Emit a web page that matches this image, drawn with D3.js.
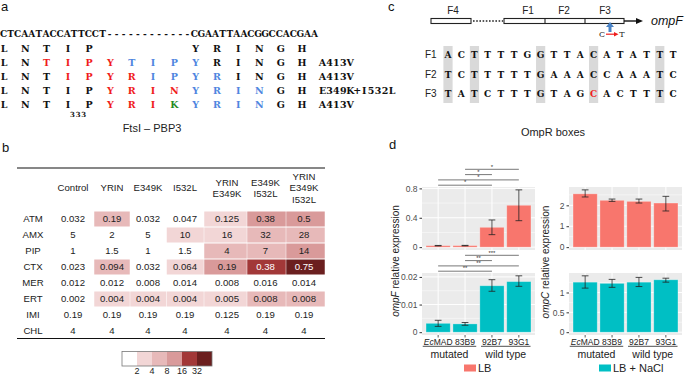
<!DOCTYPE html>
<html>
<head>
<meta charset="utf-8">
<script src="https://cdn.jsdelivr.net/npm/d3@7"></script>
<style>
  body { margin: 0; background: #fff; }
  svg { display: block; }
</style>
</head>
<body>
<svg id="fig" width="685" height="375"></svg>
<script>
// ---- panel a: FtsI alignment ----
const dnaSeq = "CTCAATACCATTCCT------------CGAATTAACGGCCACGAA";
const aaSeqs = ["LNTIP    YRINGH", "LNTIPYTIPYRINGH", "LNTIPYRIPYRINGH", "LNTIPYRINYRINGH", "LNTIPYRIKYRINGH"];
const aaColourCodes = ["kkkkkkkkkkkkkkk", "kkrrrrbbbbkkkkk", "kkkrrrrbbbbkkkk", "kkkkkrrrrbbbbkk", "kkkkkrrrgbbbbkk"];
const aaRowLabels = ["", "A413V", "A413V", "E349K+I532L", "A413V"];

// ---- panel b: MIC table ----
const strains = ["Control", "YRIN", "E349K", "I532L", "YRIN E349K", "E349K I532L", "YRIN E349K I532L"];
const drugs = ["ATM", "AMX", "PIP", "CTX", "MER", "ERT", "IMI", "CHL"];
const micATM = ["0.032", "0.19", "0.032", "0.047", "0.125", "0.38", "0.5"];
const micAMX = ["5", "2", "5", "10", "16", "32", "28"];
const micPIP = ["1", "1.5", "1", "1.5", "4", "7", "14"];
const micCTX = ["0.023", "0.094", "0.032", "0.064", "0.19", "0.38", "0.75"];
const micMER = ["0.012", "0.012", "0.008", "0.014", "0.008", "0.016", "0.014"];
const micERT = ["0.002", "0.004", "0.004", "0.004", "0.005", "0.008", "0.008"];
const micIMI = ["0.19", "0.19", "0.19", "0.19", "0.125", "0.19", "0.19"];
const micCHL = ["4", "4", "4", "4", "4", "4", "4"];
const foldBreaks = [2, 4, 8, 16, 32];
const foldColours = ["#ffffff", "#f2d6d6", "#e7b9b9", "#d99a9a", "#a23838", "#6b1f1f"];

// ---- panel c: OmpR boxes ----
const boxNames = ["F1", "F2", "F3"];
const boxSeqs = ["ACTTTTGGTTACATATTT", "TCTTTTTGAAACCAAATC", "TATCTTTGTAGCACTTTC"];
const conservedCols = [0, 2, 7, 11, 16];

// ---- panel d: expression ----
const isolates = ["EcMAD", "83B9", "92B7", "93G1"];
const groups = ["mutated", "wild type"];
const ompfLbMean = [0.02, 0.021, 0.27, 0.57];
const ompfLbLow = [0.017, 0.018, 0.17, 0.36];
const ompfLbHigh = [0.023, 0.024, 0.37, 0.78];
const ompfNaclMean = [0.0032, 0.003, 0.0168, 0.0183];
const ompfNaclLow = [0.0021, 0.0025, 0.0148, 0.0166];
const ompfNaclHigh = [0.0043, 0.0035, 0.019, 0.0204];
const ompcLbMean = [2.55, 2.24, 2.19, 2.11];
const ompcLbLow = [2.4, 2.19, 2.11, 1.73];
const ompcLbHigh = [2.74, 2.3, 2.3, 2.43];
const ompcNaclMean = [1.26, 1.23, 1.26, 1.32];
const ompcNaclLow = [1.11, 1.13, 1.15, 1.26];
const ompcNaclHigh = [1.42, 1.33, 1.38, 1.36];
const sigLb = [[1, 3, "*"], [1, 2, "*"], [0, 3, "*"], [0, 2, "*"]];
const sigNacl = [[1, 3, "***"], [1, 2, "**"], [0, 3, "**"], [0, 2, "**"]];

const svg = d3.select("#fig");
const serif = "'DejaVu Serif', serif";
const sans = "'Liberation Sans', Arial, sans-serif";
const aaColour = { k: "#111", r: "#f01c1c", b: "#4f86e0", g: "#1f8a1f" };

// draws a string one glyph per slot, so a serif font behaves like monospace
function drawChars(g, str, xAt, baseline, size, fillAt, weight = "bold") {
  g.selectAll(null)
    .data(str.split(""))
    .join("text")
    .attr("x", (d, i) => xAt(i))
    .attr("y", baseline)
    .attr("text-anchor", "middle")
    .attr("font-family", serif)
    .attr("font-weight", weight)
    .attr("font-size", size)
    .attr("fill", (d, i) => fillAt(i))
    .text((d) => d);
}

function panelLabel(x, y, t) {
  svg.append("text").attr("x", x).attr("y", y).attr("font-family", sans)
    .attr("font-size", 13).attr("fill", "#111").text(t);
}

/* ---------------- panel a ---------------- */
panelLabel(1, 11, "a");
const gA = svg.append("g");
drawChars(gA, dnaSeq, (i) => 3.5 + i * 7.07, 37, 9, () => "#111");

const aaX = d3.scaleLinear().domain([0, 14]).range([4, 302]);
const aaRowY = d3.scaleLinear().domain([0, 4]).range([51.5, 107.5]);
aaSeqs.forEach((seq, r) => {
  drawChars(gA, seq, (i) => aaX(i), aaRowY(r), 9.5, (i) => aaColour[aaColourCodes[r][i]]);
  if (aaRowLabels[r]) {
    drawChars(gA, aaRowLabels[r], (i) => 322.5 + i * 6.95, aaRowY(r), 9.5, () => "#111");
  }
});
drawChars(gA, "333", (i) => 72.5 + i * 5.6, 117, 7, () => "#111");
gA.append("text").attr("x", 152).attr("y", 132).attr("text-anchor", "middle")
  .attr("font-family", sans).attr("font-size", 11).attr("fill", "#222").text("FtsI \u2013 PBP3");

/* ---------------- panel b ---------------- */
panelLabel(2, 152, "b");
const gB = svg.append("g").attr("font-family", sans).attr("font-size", 9.6).attr("fill", "#222");
const micRows = [micATM, micAMX, micPIP, micCTX, micMER, micERT, micIMI, micCHL];
const colEdges = [53, 94, 130, 166.5, 204, 247, 286, 325];
const colCentre = [73, 112, 148, 185, 227, 265.5, 304];
const rowY = d3.scalePoint().domain(drugs).range([219, 331]);
const foldColour = d3.scaleThreshold().domain(foldBreaks).range(foldColours);

gB.append("line").attr("x1", 17).attr("x2", 325).attr("y1", 168).attr("y2", 168)
  .attr("stroke", "#111").attr("stroke-width", 1.2);
gB.append("line").attr("x1", 17).attr("x2", 325).attr("y1", 338.5).attr("y2", 338.5)
  .attr("stroke", "#111").attr("stroke-width", 1.2);

strains.forEach((s, c) => {
  const lines = s.split(" ");
  lines.forEach((ln, k) => {
    gB.append("text").attr("x", colCentre[c])
      .attr("y", 188 + (k - (lines.length - 1) / 2) * 11.5 + 3.4)
      .attr("text-anchor", "middle").text(ln);
  });
});

drugs.forEach((drug, r) => {
  const vals = micRows[r];
  const yc = rowY(drug);
  gB.append("text").attr("x", 33).attr("y", yc + 3.4).attr("text-anchor", "middle").text(drug);
  vals.forEach((v, c) => {
    const fold = +v / +vals[0];
    const bin = foldColours.indexOf(foldColour(fold));
    if (bin > 0) {
      gB.append("rect").attr("x", colEdges[c] + 0.25).attr("y", yc - 7.5)
        .attr("width", colEdges[c + 1] - colEdges[c] - 0.5).attr("height", 15)
        .attr("fill", foldColour(fold));
    }
    gB.append("text").attr("x", colCentre[c]).attr("y", yc + 3.4).attr("text-anchor", "middle")
      .attr("fill", bin >= 4 ? "#fff" : "#222").text(v);
  });
});

// colour key
const keyX = d3.scaleBand().domain(d3.range(foldColours.length)).range([122, 212]);
gB.selectAll("rect.key").data(foldColours).join("rect").attr("class", "key")
  .attr("x", (d, i) => keyX(i)).attr("y", 351.5).attr("width", keyX.bandwidth()).attr("height", 14.5)
  .attr("fill", (d) => d);
gB.append("rect").attr("x", 122).attr("y", 351.5).attr("width", 90).attr("height", 14.5)
  .attr("fill", "none").attr("stroke", "#777").attr("stroke-width", 0.8);
gB.selectAll("text.keylab").data(foldBreaks).join("text").attr("class", "keylab")
  .attr("x", (d, i) => keyX(i + 1)).attr("y", 374).attr("text-anchor", "middle")
  .attr("font-size", 9).text((d) => d);

/* ---------------- panel c ---------------- */
panelLabel(388, 11, "c");
const gC = svg.append("g");
const geneBox = (x0, x1) => gC.append("rect").attr("x", x0).attr("y", 18.5).attr("width", x1 - x0)
  .attr("height", 5).attr("fill", "#fff").attr("stroke", "#222").attr("stroke-width", 1.1);
geneBox(431, 471);
geneBox(504, 624);
[545, 585].forEach((x) => gC.append("line").attr("x1", x).attr("x2", x).attr("y1", 18.5).attr("y2", 23.5)
  .attr("stroke", "#222").attr("stroke-width", 1.1));
gC.append("line").attr("x1", 473).attr("x2", 503).attr("y1", 21).attr("y2", 21)
  .attr("stroke", "#222").attr("stroke-width", 1.6).attr("stroke-dasharray", "1.6,1.6");
gC.append("line").attr("x1", 624).attr("x2", 637).attr("y1", 21).attr("y2", 21)
  .attr("stroke", "#111").attr("stroke-width", 1.4);
gC.append("path").attr("d", "M636,18 L643,21 L636,24 Z").attr("fill", "#111");
gC.append("text").attr("x", 651).attr("y", 25).attr("font-family", sans).attr("font-size", 12.5)
  .attr("font-style", "italic").attr("fill", "#111").text("ompF");
[["F4", 453], ["F1", 528], ["F2", 564], ["F3", 605]].forEach(([t, x]) =>
  gC.append("text").attr("x", x).attr("y", 14).attr("text-anchor", "middle").attr("font-family", sans)
    .attr("font-size", 10).attr("fill", "#222").text(t));
// mutation marker
gC.append("path").attr("d", "M608.5,32 L608.5,27 L606,27 L610,22 L614,27 L611.5,27 L611.5,32 Z")
  .attr("fill", "#4a83c6");
gC.append("text").attr("x", 602).attr("y", 37).attr("text-anchor", "middle").attr("font-family", serif)
  .attr("font-size", 8).attr("fill", "#222").text("C");
gC.append("text").attr("x", 622).attr("y", 37).attr("text-anchor", "middle").attr("font-family", serif)
  .attr("font-size", 8).attr("fill", "#222").text("T");
gC.append("line").attr("x1", 606).attr("x2", 615).attr("y1", 34.2).attr("y2", 34.2)
  .attr("stroke", "#f01c1c").attr("stroke-width", 1.2);
gC.append("path").attr("d", "M614,32 L618.5,34.2 L614,36.4 Z").attr("fill", "#f01c1c");

const seqX = d3.scaleLinear().domain([0, 17]).range([448, 673]);
const seqY = d3.scalePoint().domain(boxNames).range([57.8, 97.3]);
gC.selectAll("rect.cons").data(conservedCols).join("rect").attr("class", "cons")
  .attr("x", (d) => seqX(d) - 4.6).attr("y", 46).attr("width", 9.2).attr("height", 57)
  .attr("fill", "#d9d9d9");
boxNames.forEach((name, r) => {
  gC.append("text").attr("x", 425).attr("y", seqY(name)).attr("font-family", sans)
    .attr("font-size", 10).attr("fill", "#222").text(name);
  drawChars(gC, boxSeqs[r], (i) => seqX(i), seqY(name), 9,
    (i) => (name === "F3" && i === 11 ? "#f01c1c" : "#111"));
});
gC.append("text").attr("x", 553).attr("y", 136).attr("text-anchor", "middle").attr("font-family", sans)
  .attr("font-size", 11).attr("fill", "#222").text("OmpR boxes");

/* ---------------- panel d ---------------- */
panelLabel(389, 149, "d");
const gD = svg.append("g").attr("font-family", sans);

const plots = [
  { mean: ompfLbMean, lo: ompfLbLow, hi: ompfLbHigh, ticks: [0, 0.4, 0.8], minor: [0.2, 0.6],
    x0: 422, x1: 535, y0: 187, y1: 250, fill: "#F8766D", sig: sigLb, bottom: false },
  { mean: ompfNaclMean, lo: ompfNaclLow, hi: ompfNaclHigh, ticks: [0, 0.01, 0.02], minor: [0.005, 0.015],
    x0: 422, x1: 535, y0: 273, y1: 335, fill: "#00BFC4", sig: sigNacl, bottom: true },
  { mean: ompcLbMean, lo: ompcLbLow, hi: ompcLbHigh, ticks: [0, 1, 2], minor: [0.5, 1.5, 2.5],
    x0: 569, x1: 682, y0: 187, y1: 250, fill: "#F8766D", sig: [], bottom: false },
  { mean: ompcNaclMean, lo: ompcNaclLow, hi: ompcNaclHigh, ticks: [0, 0.5, 1], minor: [0.25, 0.75, 1.25],
    x0: 569, x1: 682, y0: 273, y1: 335, fill: "#00BFC4", sig: [], bottom: true },
];

plots.forEach((p) => {
  const g = gD.append("g");
  const top = d3.max(p.hi);
  const y = d3.scaleLinear().domain([-0.05 * top, 1.05 * top]).range([p.y1, p.y0]);
  const x = d3.scalePoint().domain(isolates).range([p.x0, p.x1]).padding(0.6);
  const step = x.step();

  g.append("rect").attr("x", p.x0).attr("y", p.y0).attr("width", p.x1 - p.x0).attr("height", p.y1 - p.y0)
    .attr("fill", "#ebebeb");
  g.selectAll("line.minor").data(p.minor.filter((v) => y(v) > p.y0)).join("line")
    .attr("x1", p.x0).attr("x2", p.x1).attr("y1", (d) => y(d)).attr("y2", (d) => y(d))
    .attr("stroke", "#fff").attr("stroke-width", 0.5);
  g.selectAll("line.major").data(p.ticks).join("line")
    .attr("x1", p.x0).attr("x2", p.x1).attr("y1", (d) => y(d)).attr("y2", (d) => y(d))
    .attr("stroke", "#fff").attr("stroke-width", 1);
  g.selectAll("line.vgrid").data(isolates).join("line")
    .attr("x1", (d) => x(d)).attr("x2", (d) => x(d)).attr("y1", p.y0).attr("y2", p.y1)
    .attr("stroke", "#fff").attr("stroke-width", 1);

  // bars
  g.selectAll("rect.bar").data(isolates).join("rect")
    .attr("x", (d) => x(d) - 0.45 * step).attr("width", 0.9 * step)
    .attr("y", (d, i) => y(p.mean[i])).attr("height", (d, i) => y(0) - y(p.mean[i]))
    .attr("fill", p.fill).attr("stroke", "#fff").attr("stroke-opacity", 0.35).attr("stroke-width", 0.8);

  // error bars
  const eb = g.append("g").attr("stroke", "#222").attr("stroke-width", 0.8);
  isolates.forEach((d, i) => {
    const cx = x(d), w = 0.125 * step;
    eb.append("line").attr("x1", cx).attr("x2", cx).attr("y1", y(p.lo[i])).attr("y2", y(p.hi[i]));
    eb.append("line").attr("x1", cx - w).attr("x2", cx + w).attr("y1", y(p.lo[i])).attr("y2", y(p.lo[i]));
    eb.append("line").attr("x1", cx - w).attr("x2", cx + w).attr("y1", y(p.hi[i])).attr("y2", y(p.hi[i]));
  });

  // y axis
  const yAxis = d3.axisLeft(y).tickValues(p.ticks).tickSize(2.5).tickPadding(2).tickFormat((d) => String(d));
  const ag = g.append("g").attr("transform", `translate(${p.x0},0)`).call(yAxis);
  ag.select(".domain").remove();
  ag.selectAll("line").attr("stroke", "#333");
  ag.selectAll("text").attr("font-family", sans).attr("font-size", 8.5).attr("fill", "#4d4d4d");

  // significance brackets
  p.sig.forEach(([a, b, lab], k) => {
    const yy = p.y0 - 1.8 - 5.3 * (p.sig.length - 1 - k);
    g.append("line").attr("x1", x(isolates[a])).attr("x2", x(isolates[b])).attr("y1", yy).attr("y2", yy)
      .attr("stroke", "#555").attr("stroke-width", 0.8);
    g.append("text").attr("x", (x(isolates[a]) + x(isolates[b])) / 2).attr("y", yy - 0.8)
      .attr("text-anchor", "middle").attr("font-size", 6).attr("fill", "#333").text(lab);
  });

  if (p.bottom) {
    g.selectAll("line.xt").data(isolates).join("line")
      .attr("x1", (d) => x(d)).attr("x2", (d) => x(d)).attr("y1", p.y1).attr("y2", p.y1 + 2.5)
      .attr("stroke", "#333").attr("stroke-width", 0.8);
    const labs = g.selectAll("text.xl").data(isolates).join("text")
      .attr("x", (d) => x(d)).attr("y", 344.5).attr("text-anchor", "middle")
      .attr("font-size", 8.5).attr("fill", "#222");
    labs.each(function (d) {
      const t = d3.select(this);
      if (d.startsWith("Ec")) {
        t.append("tspan").attr("font-style", "italic").text("Ec");
        t.append("tspan").text(d.slice(2));
      } else {
        t.text(d);
      }
    });
    const boxes = labs.nodes().map((n) => n.getBBox());
    groups.forEach((grp, k) => {
      const l = boxes[2 * k].x - 1, r = boxes[2 * k + 1].x + boxes[2 * k + 1].width + 1;
      g.append("line").attr("x1", l).attr("x2", r).attr("y1", 346.3).attr("y2", 346.3)
        .attr("stroke", "#222").attr("stroke-width", 0.8);
      g.append("text").attr("x", (l + r) / 2).attr("y", 358).attr("text-anchor", "middle")
        .attr("font-size", 10.5).attr("fill", "#222").text(grp);
    });
  }
});

// axis titles
[["ompF", 399, 261], ["ompC", 549, 262]].forEach(([gene, tx, ty]) => {
  const t = gD.append("text").attr("transform", `translate(${tx},${ty}) rotate(-90)`)
    .attr("text-anchor", "middle").attr("font-size", 10).attr("fill", "#222");
  t.append("tspan").attr("font-style", "italic").text(gene);
  t.append("tspan").text(" relative expression");
});

// legend
[["LB", "#F8766D", 464], ["LB + NaCl", "#00BFC4", 599]].forEach(([lab, col, lx]) => {
  gD.append("rect").attr("x", lx).attr("y", 364.5).attr("width", 12).attr("height", 7).attr("fill", col);
  gD.append("text").attr("x", lx + 14).attr("y", 372).attr("font-size", 11).attr("fill", "#222").text(lab);
});
</script>
</body>
</html>
